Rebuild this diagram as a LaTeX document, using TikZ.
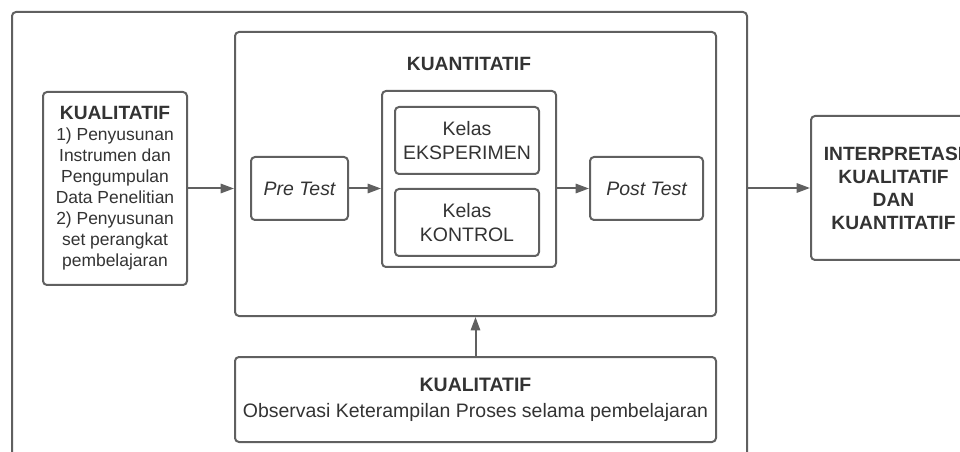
\documentclass[tikz,border=0pt]{standalone}
\usepackage{fontspec}
\setmainfont{Liberation Sans}
\usetikzlibrary{arrows.meta,positioning}
\definecolor{ink}{RGB}{51,51,51}
\definecolor{rulegray}{RGB}{96,96,96}
\tikzset{
  flow/.style={-{Triangle[length=10pt,width=7pt]},line width=1.5pt,draw=rulegray},
  frame/.style={draw=rulegray,line width=1.5pt,rounded corners=3pt,inner sep=0pt},
  box/.style={draw=rulegray,line width=1.5pt,rounded corners=3pt,align=center,inner sep=2pt,text=ink,font=\fontsize{14.6}{18}\selectfont},
  heading/.style={text=ink,align=center,font=\bfseries\fontsize{14.4}{17.25}\selectfont}
}
\begin{document}
\begin{tikzpicture}[x=0.75pt,y=-0.75pt,node distance=9.75pt]
  \clip (0,0) rectangle (960,452);
  \node[frame,minimum width=551.25pt,minimum height=343.5pt] (outer) at (379.5,241) {};
  \node[box,font=\fontsize{13.1}{15.75}\selectfont,minimum width=108pt,minimum height=144.75pt] (kuallit) at (115,188.5)
    {{\bfseries\fontsize{14.4}{18.75}\selectfont KUALITATIF}\\1) Penyusunan\\Instrumen dan\\Pengumpulan\\Data Penelitian\\2) Penyusunan\\set perangkat\\pembelajaran};
  \node[frame,minimum width=360.75pt,minimum height=213pt] (kuant) at (475.5,174) {};
  \node[heading] (kuanttitle) at (469,64) {KUANTITATIF};
  \node[box,minimum width=72.75pt,minimum height=47.25pt] (pre) at (299.5,188.5) {\itshape Pre Test};
  \node[frame,minimum width=130.5pt,minimum height=132pt] (kelas) at (469,179) {};
  \node[box,minimum width=108pt,minimum height=50.25pt] (eksp) at (467,140.5) {Kelas\\EKSPERIMEN};
  \node[box,minimum width=108pt,minimum height=50.25pt,below=of eksp] (kontrol) {Kelas\\KONTROL};
  \node[box,minimum width=84.75pt,minimum height=47.25pt] (post) at (646.5,188.5) {\itshape Post Test};
  \node[box,font=\bfseries\fontsize{14.4}{17.25}\selectfont,minimum width=123.75pt,minimum height=108pt] (interp) at (893.5,188)
    {INTERPRETASI\\KUALITATIF\\DAN\\KUANTITATIF};
  \node[box,minimum width=360.75pt,minimum height=63.75pt] (observasi) at (475.5,399.5)
    {{\bfseries KUALITATIF}\\[1.5pt]Observasi Keterampilan Proses selama pembelajaran};
  % arrows
  \draw[flow] (kuallit.east) -- (kuallit.east -| kuant.west);
  \draw[flow] (pre.east) -- (pre.east -| kelas.west);
  \draw[flow] (post.west -| kelas.east) -- (post.west);
  \draw[flow] (observasi.north) -- (kuant.south);
  \draw[flow] (interp.west -| outer.east) -- (interp.west);
\end{tikzpicture}
\end{document}
